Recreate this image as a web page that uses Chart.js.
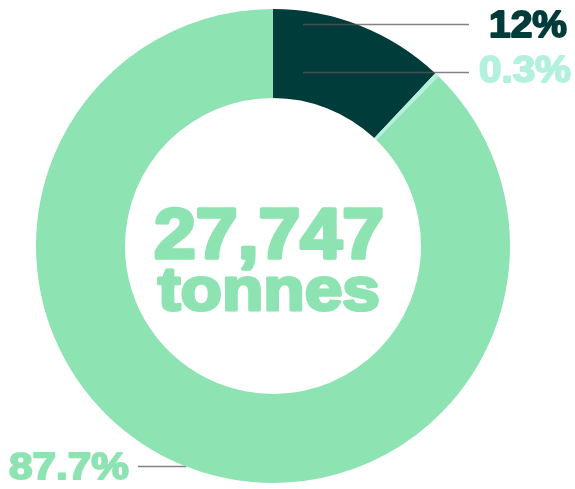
<!DOCTYPE html>
<html>
<head>
<meta charset="utf-8">
<script src="https://cdn.jsdelivr.net/npm/chart.js@4.4.0/dist/chart.umd.min.js"></script>
<style>
  html, body { margin: 0; padding: 0; background: #fff; }
  #wrap { width: 575px; height: 489px; position: relative; }
</style>
</head>
<body>
<div id="wrap"><canvas id="donut"></canvas></div>
<script>
// Share of total tonnage by category
const categories = ['Category A', 'Category B', 'Category C'];
const shares = [12, 0.3, 87.7];
const colours = ['#003c3a', '#b4f0de', '#8de3b1'];
const totalTonnes = 27747;
const unitLabel = 'tonnes';

// Where each percentage label sits: [left, right, baseline, font size, leader line]
const labelSpots = [
  { left: 488, right: 568, base: 37, size: 37, line: [303, 469, 24], over: true },
  { left: 478, right: 572, base: 82, size: 36, line: [303, 469, 72], over: true },
  { left: 8, right: 130, base: 479, size: 37, line: [138, 186, 466], over: false }
];

// Heavy text squeezed/stretched to a fixed box width
function drawFitted(ctx, text, left, right, base, size, colour) {
  ctx.save();
  ctx.font = 'bold ' + size + 'px "Liberation Sans", Arial, sans-serif';
  ctx.textAlign = 'left';
  ctx.textBaseline = 'alphabetic';
  const w = ctx.measureText(text).width;
  const sx = (right - left - 2) / w;
  ctx.translate(left + 1, base);
  ctx.scale(sx, 1);
  ctx.fillStyle = colour;
  ctx.strokeStyle = colour;
  ctx.lineWidth = size * 0.05;
  ctx.lineJoin = 'round';
  ctx.fillText(text, 0, 0);
  ctx.strokeText(text, 0, 0);
  ctx.restore();
}

function drawLeader(ctx, spot) {
  ctx.save();
  ctx.strokeStyle = 'rgba(90,90,90,0.75)';
  ctx.lineWidth = 1.5;
  ctx.beginPath();
  ctx.moveTo(spot.line[0], spot.line[2] + 0.5);
  ctx.lineTo(spot.line[1], spot.line[2] + 0.5);
  ctx.stroke();
  ctx.restore();
}

const labelPlugin = {
  id: 'donutLabels',
  beforeDatasetsDraw(chart) {
    const ctx = chart.ctx;
    labelSpots.forEach(spot => { if (!spot.over) drawLeader(ctx, spot); });
  },
  afterDatasetsDraw(chart) {
    const ctx = chart.ctx;
    labelSpots.forEach(spot => { if (spot.over) drawLeader(ctx, spot); });

    shares.forEach((v, i) => {
      const s = labelSpots[i];
      drawFitted(ctx, v + '%', s.left, s.right, s.base, s.size, colours[i]);
    });

    // Total in the middle
    drawFitted(ctx, totalTonnes.toLocaleString('en-US'), 153, 385, 258, 71, colours[2]);
    drawFitted(ctx, unitLabel, 157, 381, 310, 62, colours[2]);
  }
};

new Chart(document.getElementById('donut').getContext('2d'), {
  type: 'doughnut',
  data: {
    labels: categories,
    datasets: [{
      data: shares,
      backgroundColor: colours,
      borderWidth: 0,
      hoverOffset: 0,
      offset: 0
    }]
  },
  options: {
    responsive: true,
    maintainAspectRatio: false,
    animation: false,
    cutout: 148,
    layout: { padding: { top: 9, bottom: 6, left: 36, right: 65 } },
    plugins: {
      legend: { display: false },
      tooltip: { enabled: false }
    }
  },
  plugins: [labelPlugin]
});
</script>
</body>
</html>
